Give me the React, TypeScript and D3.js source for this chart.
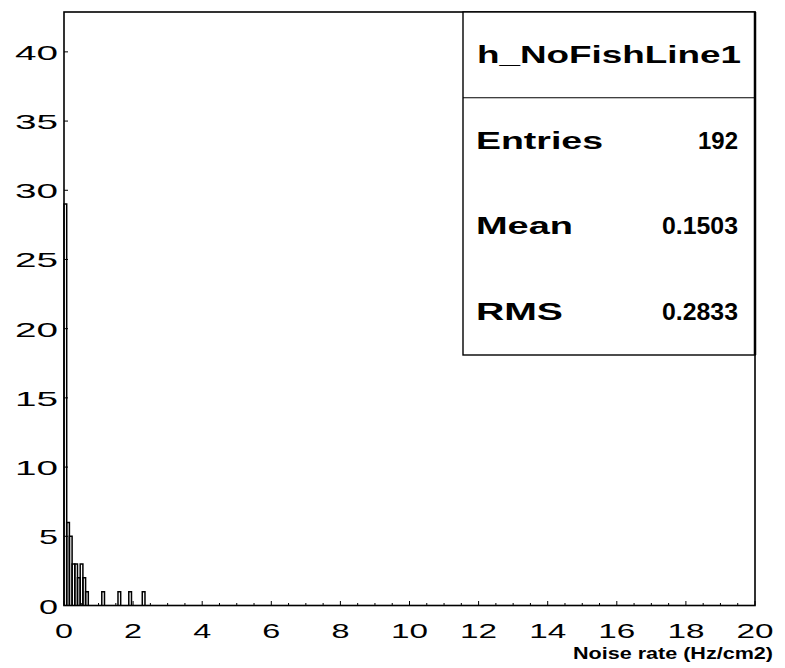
import React from "react";
import * as d3 from "d3";

// h_NoFishLine1 : 256 bins on [0, 20], only the filled ones listed
const nBins = 256;
const binIndex = [0, 1, 2, 3, 4, 5, 6, 7, 8, 14, 20, 24, 29];
const binCount = [29, 6, 5, 3, 3, 2, 3, 2, 1, 1, 1, 1, 1];

const xTicks = [0, 2, 4, 6, 8, 10, 12, 14, 16, 18, 20];
const yTicks = [0, 5, 10, 15, 20, 25, 30, 35, 40];

const statTitle = "h_NoFishLine1";
const statNames = ["Entries", "Mean", "RMS"];
const statValues = ["192", "0.1503", "0.2833"];
const xTitle = "Noise rate (Hz/cm2)";

const W = 785;
const H = 668;
const frame = { left: 64, right: 755, top: 12, bottom: 605.5 };
const font = "'Liberation Sans', Arial, Helvetica, sans-serif";

export default function App() {
  const x = d3.scaleLinear().domain([0, 20]).range([frame.left, frame.right]);
  const y = d3.scaleLinear().domain([0, 42.88]).range([frame.bottom, frame.top]);
  const bw = 20 / nBins;

  // minor ticks every 0.5 on x
  const xMinor = d3.range(0, 20.001, 0.5).filter((v) => Math.abs(v % 2) > 1e-6);

  // each bin drawn as an open box down to the axis (ROOT style)
  const bins = binIndex.map((b, i) => ({ x0: b * bw, x1: (b + 1) * bw, n: binCount[i] }));

  // stat box rows
  const box = { left: 463, right: 755, top: 12, bottom: 355 };
  const rowH = (box.bottom - box.top) / (statNames.length + 1);
  const nameLen = [127, 97, 87];
  const valLen = [40, 76, 76];

  return (
    <svg
      width={W}
      height={H}
      style={{ position: "absolute", left: 0, top: 0, background: "#fff" }}
      fontFamily={font}
    >
      <rect x={0} y={0} width={W} height={H} fill="#fff" />

      {/* histogram */}
      <g fill="none" stroke="#000" strokeWidth={1.5}>
        {bins.map((d, i) => (
          <path
            key={i}
            d={`M${x(d.x0)},${y(0)}V${y(d.n)}H${x(d.x1)}V${y(0)}`}
          />
        ))}
      </g>

      {/* frame */}
      <rect
        x={frame.left}
        y={frame.top}
        width={frame.right - frame.left}
        height={frame.bottom - frame.top}
        fill="none"
        stroke="#000"
        strokeWidth={1.6}
      />

      {/* y axis */}
      <g>
        {yTicks.map((t) => (
          <g key={t}>
            <line x1={frame.left} x2={frame.left + 4} y1={y(t)} y2={y(t)} stroke="#000" />
            <text
              x={58}
              y={y(t) + 8}
              textAnchor="end"
              fontSize={21}
              textLength={String(t).length > 1 ? 43 : 19}
              lengthAdjust="spacingAndGlyphs"
            >
              {t}
            </text>
          </g>
        ))}
      </g>

      {/* x axis */}
      <g>
        {xMinor.map((t) => (
          <line key={"m" + t} x1={x(t)} x2={x(t)} y1={frame.bottom} y2={frame.bottom - 2.5} stroke="#000" />
        ))}
        {xTicks.map((t) => (
          <g key={t}>
            <line x1={x(t)} x2={x(t)} y1={frame.bottom} y2={frame.bottom - 4.5} stroke="#000" />
            <text
              x={x(t)}
              y={638}
              textAnchor="middle"
              fontSize={21}
              textLength={String(t).length > 1 ? 37 : 18}
              lengthAdjust="spacingAndGlyphs"
            >
              {t}
            </text>
          </g>
        ))}
        <text
          x={773}
          y={659}
          textAnchor="end"
          fontSize={16}
          fontWeight="bold"
          textLength={200}
          lengthAdjust="spacingAndGlyphs"
        >
          {xTitle}
        </text>
      </g>

      {/* stat box */}
      <g>
        <rect
          x={box.left}
          y={box.top}
          width={box.right - box.left}
          height={box.bottom - box.top}
          fill="#fff"
          stroke="#000"
          strokeWidth={1.4}
        />
        <line x1={box.right} x2={box.right} y1={box.top} y2={box.bottom} stroke="#000" strokeWidth={2.5} />
        <line x1={box.left} x2={box.right} y1={box.top + rowH} y2={box.top + rowH} stroke="#000" strokeWidth={1} />
        <text
          x={(box.left + box.right) / 2}
          y={box.top + rowH / 2 + 8}
          textAnchor="middle"
          fontSize={23}
          fontWeight="bold"
          textLength={264}
          lengthAdjust="spacingAndGlyphs"
        >
          {statTitle}
        </text>
        {statNames.map((name, i) => {
          const cy = box.top + rowH * (i + 1.5);
          return (
            <g key={name}>
              <text
                x={476}
                y={cy + 8}
                fontSize={23}
                fontWeight="bold"
                textLength={nameLen[i]}
                lengthAdjust="spacingAndGlyphs"
              >
                {name}
              </text>
              <text
                x={738}
                y={cy + 8}
                textAnchor="end"
                fontSize={23}
                fontWeight="bold"
                textLength={valLen[i]}
                lengthAdjust="spacingAndGlyphs"
              >
                {statValues[i]}
              </text>
            </g>
          );
        })}
      </g>
    </svg>
  );
}
